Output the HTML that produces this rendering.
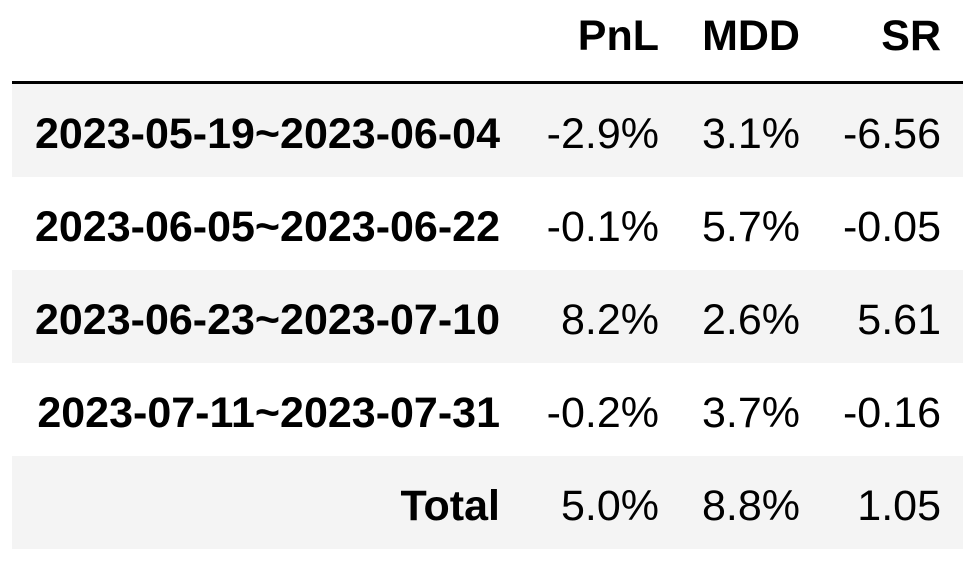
<!DOCTYPE html>
<html>
<head>
<meta charset="utf-8">
<style>
  html, body { margin: 0; padding: 0; background: #ffffff; }
  body { width: 978px; height: 572px; position: relative; overflow: hidden;
         font-family: "Liberation Sans", Arial, Helvetica, sans-serif; color: #000; }
  .line { position: absolute; left: 12px; width: 951px; top: 81px; height: 3px; background: #000; }
  .bg { position: absolute; left: 12px; width: 951px; height: 93px; background: #f4f4f4; }
  .t { position: absolute; height: 93px; line-height: 93px; font-size: 43px; white-space: nowrap; text-align: right; }
  .b { font-weight: bold; }
  .c0 { right: 478px; }
  .c1 { right: 319px; }
  .c2 { right: 178px; }
  .c3 { right: 37px; }
</style>
</head>
<body>
  <div class="line"></div>
  <div class="bg" style="top:84px"></div>
  <div class="bg" style="top:270px"></div>
  <div class="bg" style="top:456px"></div>

  <!-- header -->
  <div class="t b c1" style="top:-10px">PnL</div>
  <div class="t b c2" style="top:-10px">MDD</div>
  <div class="t b c3" style="top:-10px">SR</div>

  <!-- row 1 -->
  <div class="t b c0" style="top:87.5px">2023-05-19~2023-06-04</div>
  <div class="t c1" style="top:87.5px">-2.9%</div>
  <div class="t c2" style="top:87.5px">3.1%</div>
  <div class="t c3" style="top:87.5px">-6.56</div>

  <!-- row 2 -->
  <div class="t b c0" style="top:180.5px">2023-06-05~2023-06-22</div>
  <div class="t c1" style="top:180.5px">-0.1%</div>
  <div class="t c2" style="top:180.5px">5.7%</div>
  <div class="t c3" style="top:180.5px">-0.05</div>

  <!-- row 3 -->
  <div class="t b c0" style="top:273.5px">2023-06-23~2023-07-10</div>
  <div class="t c1" style="top:273.5px">8.2%</div>
  <div class="t c2" style="top:273.5px">2.6%</div>
  <div class="t c3" style="top:273.5px">5.61</div>

  <!-- row 4 -->
  <div class="t b c0" style="top:366.5px">2023-07-11~2023-07-31</div>
  <div class="t c1" style="top:366.5px">-0.2%</div>
  <div class="t c2" style="top:366.5px">3.7%</div>
  <div class="t c3" style="top:366.5px">-0.16</div>

  <!-- total -->
  <div class="t b c0" style="top:459.5px">Total</div>
  <div class="t c1" style="top:459.5px">5.0%</div>
  <div class="t c2" style="top:459.5px">8.8%</div>
  <div class="t c3" style="top:459.5px">1.05</div>
</body>
</html>
